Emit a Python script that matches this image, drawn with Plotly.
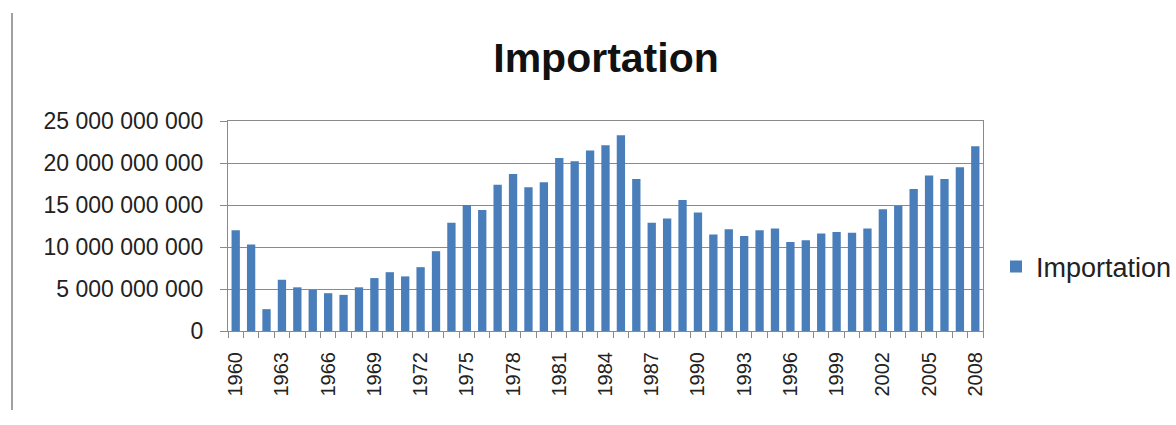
import plotly.graph_objects as go

years = list(range(1960, 2009))
importation = [
    12.0e9, 10.3e9, 2.6e9, 6.1e9, 5.2e9, 4.9e9, 4.5e9, 4.3e9, 5.2e9, 6.3e9,
    7.0e9, 6.5e9, 7.6e9, 9.5e9, 12.9e9, 15.0e9, 14.4e9, 17.4e9, 18.7e9, 17.1e9,
    17.7e9, 20.6e9, 20.2e9, 21.5e9, 22.1e9, 23.3e9, 18.1e9, 12.9e9, 13.4e9, 15.6e9,
    14.1e9, 11.5e9, 12.1e9, 11.3e9, 12.0e9, 12.2e9, 10.6e9, 10.8e9, 11.6e9, 11.8e9,
    11.7e9, 12.2e9, 14.5e9, 14.9e9, 16.9e9, 18.5e9, 18.1e9, 19.5e9, 22.0e9,
]
label_years = list(range(1960, 2009, 3))
y_ticks = [0, 5e9, 10e9, 15e9, 20e9, 25e9]

FONT = "Liberation Sans, Arial, sans-serif"
GRID = "#8a8a8a"

fig = go.Figure()
fig.add_trace(go.Bar(
    x=years, y=importation, name="Importation",
    marker=dict(color="#4a7ebb", line=dict(width=0)),
    showlegend=True,
))

W, H = 1176, 425
L, R, T, B = 228, 193, 121, 94
pw = W - L - R
ph = H - T - B

fig.update_layout(
    width=W, height=H,
    margin=dict(l=L, r=R, t=T, b=B, pad=0, autoexpand=False),
    paper_bgcolor="white", plot_bgcolor="white",
    separators=". ",
    bargap=0.46,
    title=dict(text="<b>Importation</b>", x=606 / W, xanchor="center", xref="container",
               y=1 - 58 / H, yanchor="middle", yref="container",
               font=dict(family=FONT, size=41, color="#111111")),
    font=dict(family=FONT, color="#222222"),
    showlegend=True,
    legend=dict(x=(996 - L) / pw, y=(H - B - 267) / ph, xanchor="left", yanchor="middle",
                font=dict(family=FONT, size=27, color="#222222"),
                bgcolor="rgba(0,0,0,0)", itemwidth=30),
    xaxis=dict(
        range=[1959.5, 2008.5],
        tickmode="array", tickvals=label_years, ticktext=[str(y) for y in label_years],
        tickangle=-90, tickfont=dict(family=FONT, size=20, color="#222222"),
        ticks="", showgrid=False,
        showline=True, linecolor=GRID, linewidth=1, mirror=True,
        minor=dict(ticks="outside", tick0=1959.5, dtick=1, ticklen=6,
                   tickcolor=GRID, tickwidth=1, showgrid=False),
        zeroline=False, ticklabelstandoff=12,
    ),
    yaxis=dict(
        range=[0, 25e9], tickmode="array", tickvals=y_ticks,
        tickformat=",d", tickfont=dict(family=FONT, size=23, color="#222222"),
        ticks="outside", ticklen=7, tickcolor=GRID,
        showgrid=True, gridcolor=GRID, gridwidth=1,
        showline=True, linecolor=GRID, linewidth=1, mirror=True,
        zeroline=False, ticklabelstandoff=12,
    ),
    shapes=[dict(type="line", xref="paper", yref="paper",
                 x0=(12 - L) / pw, x1=(12 - L) / pw,
                 y0=(H - B - 13) / ph, y1=(H - B - 410) / ph,
                 line=dict(color="#a0a0a0", width=2))],
)

fig.write_html("out.html")
